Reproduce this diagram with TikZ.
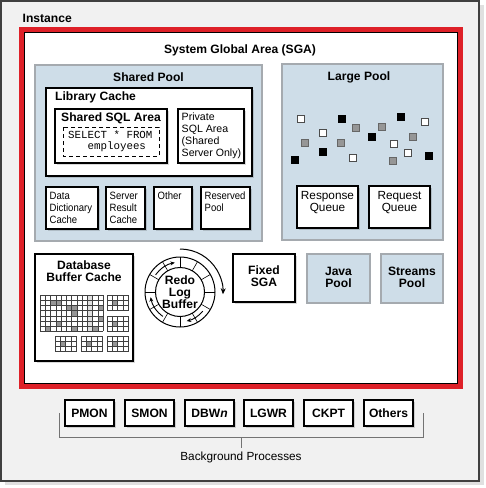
\documentclass[tikz,border=0pt]{standalone}
\usepackage{fontspec}
\setmainfont{Liberation Sans}
\setmonofont{Liberation Mono}
\newfontfamily\narrowsans[FakeStretch=0.9]{Liberation Sans}
\usetikzlibrary{shadows}
\usetikzlibrary{arrows.meta}

\definecolor{instgray}{RGB}{241,241,241}
\definecolor{sgared}{RGB}{222,32,40}
\definecolor{poolblue}{RGB}{206,221,232}
\definecolor{poolline}{RGB}{165,170,175}
\definecolor{cellgray}{RGB}{150,150,150}

\newcommand\titlefont{\bfseries\fontsize{12.1}{12}\selectfont}
\newcommand\labelfont{\fontsize{11.8}{12}\selectfont}
\newcommand\areafont{\fontsize{10.6}{12}\selectfont}
\newcommand\cachefont{\narrowsans\fontsize{10.6}{11.8}\selectfont}
\newcommand\sqlfont{\ttfamily\fontsize{10.8}{11}\selectfont}

\tikzset{
  pool/.style={fill=poolblue, draw=poolline, line width=2pt},
  membox/.style={fill=white, draw=black, line width=1.4pt,
    drop shadow={shadow xshift=1.5pt, shadow yshift=-1.5pt, fill=black, opacity=0.15}},
  title/.style={font=\titlefont, align=center},
  cachetext/.style={font=\cachefont, align=left, anchor=north west, inner sep=0pt},
  procbox/.style={membox, minimum width=49pt, minimum height=26pt, inner sep=0pt, font=\titlefont},
  gridline/.style={black!75, line width=0.5pt},
  ringline/.style={black, line width=1pt},
  sqw/.style={fill=white, draw=black!70, line width=0.6pt},
  sqg/.style={fill=cellgray, draw=black!60, line width=0.6pt},
  sqb/.style={fill=black, draw=black, line width=0.6pt},
}

% x, y, columns, rows
\newcommand\cachegrid[4]{%
  \foreach \i in {0,...,#3} \draw[gridline] (#1+\i*5.25,#2) -- ++(0,#4*5.2);
  \foreach \j in {0,...,#4} \draw[gridline] (#1,#2+\j*5.2) -- ++(#3*5.25,0);
}

\begin{document}
\begin{tikzpicture}[x=1pt, y=-1pt]
\useasboundingbox (0,0) rectangle (486,488);

%instance
\fill[black!12] (5,5) rectangle (484,485);
\draw[fill=instgray, draw=black!75, line width=1.2pt] (1,1) rectangle (479,481);
\node[font=\titlefont, anchor=west, inner sep=0pt] (instance) at (22.5,18) {Instance};

%sga frame
\draw[sgared, line width=5pt] (21.5,29.5) rectangle (460.5,386.5);
\draw[fill=white, draw=black, line width=1.2pt] (24.6,32.6) rectangle (457.2,383.6);
\node[title] (sga) at (240,50) {System Global Area (SGA)};

%shared pool
\begin{scope}{
\draw[pool] (35,65) rectangle (262,241);
\node[title] (shpool) at (148.5,77) {Shared Pool};

\draw[membox] (46,88) rectangle (252,176);
\node[font=\titlefont, anchor=west, inner sep=0pt] (libcache) at (55,97.5) {Library Cache};

\draw[membox] (55,109) rectangle (167,163);
\node[title] (sqlarea) at (111,118) {Shared SQL Area};
\draw[black, line width=0.8pt, dash pattern=on 4pt off 3pt] (63,127) rectangle (159,156);
\node[font=\sqlfont, align=left, anchor=west, inner sep=0pt] (select) at (68,141.5)
{SELECT * FROM\\\phantom{SEL}employees};

\draw[membox] (178,109) rectangle (244,163);
\node[font=\areafont, align=left, anchor=west, inner sep=0pt] (private) at (181.5,136)
{Private\\SQL Area\\(Shared\\Server Only)};

\draw[membox] (46,187) rectangle (98,229);
\node[cachetext] (dictcache) at (49.5,192) {Data\\Dictionary\\Cache};
\draw[membox] (106,187) rectangle (145,229);
\node[cachetext] (resultcache) at (109.5,192) {Server\\Result\\Cache};
\draw[membox] (154,187) rectangle (192,229);
\node[cachetext] (other) at (157.5,192) {Other};
\draw[membox] (201,187) rectangle (250,229);
\node[cachetext] (reserved) at (204.5,192) {Reserved\\Pool};
} \end{scope}

%large pool
\begin{scope}{
\draw[pool] (282,64) rectangle (443,240);
\node[title] (lgpool) at (359,77) {Large Pool};

\foreach \x/\y/\c in {301/119/w, 342/119/b, 356/128/g, 323/133/w, 305/143/g,
  341/143/g, 323/152/b, 295/160/b, 353/158/w, 382/127/g, 401/117/b, 372/137/b,
  425/122/w, 413/137/g, 394/144/w, 408/153/w, 393/161/g, 429/156/b}
  \draw[sq\c] (\x-3.5,\y-3.5) rectangle ++(7,7);

\draw[membox] (297,186) rectangle (358,228);
\node[font=\labelfont, align=center] (respq) at (327.5,202.5) {Response\\Queue};
\draw[membox] (369,186) rectangle (430,228);
\node[font=\labelfont, align=center] (reqq) at (399.5,202.5) {Request\\Queue};
} \end{scope}

%database buffer cache
\begin{scope}{
\draw[membox] (35,254) rectangle (133,361);
\node[title] (dbcache) at (84,271) {Database\\Buffer Cache};

\fill[black!12] (40+9*5.25,295) rectangle ++(5.25,36.4);
\foreach \i/\j in {2/1, 3/1, 5/2, 6/2, 6/3, 11/2, 11/4, 3/5, 1/6, 6/6, 10/6}
  \fill[cellgray] (40+\i*5.25,295+\j*5.2) rectangle ++(5.25,5.2);
\cachegrid{40}{295}{12}{7}

\foreach \gx/\gy in {107/295, 107/316, 55/336, 81/336, 107/336}{
  \fill[cellgray] (\gx+5.25,\gy+5.2) rectangle ++(5.25,5.2);
  \cachegrid{\gx}{\gy}{4}{3}
}
} \end{scope}

%redo log buffer
\begin{scope}[shift={(180,292)}, yscale=-1]
\draw[ringline] (0,0) circle[radius=35];
\draw[ringline] (0,0) circle[radius=24.5];
\foreach \a in {0,30,...,330}
  \draw[black, line width=0.6pt] (\a:24.5) -- (\a:35);
\draw[black, line width=0.9pt, -{Stealth[length=4.5pt, width=4pt]}]
  (320:29.8) arc[start angle=320, end angle=283, radius=29.8];
\draw[black, line width=0.9pt, -{Stealth[length=4.5pt, width=4pt]}]
  (235:29.8) arc[start angle=235, end angle=190, radius=29.8];
\draw[black, line width=0.9pt, -{Stealth[length=4.5pt, width=4pt]}]
  (145:29.8) arc[start angle=145, end angle=100, radius=29.8];
\draw[black, line width=1pt, -{Stealth[length=6pt, width=5pt]}]
  (90:43) arc[start angle=90, end angle=-3, radius=43];
\end{scope}
\node[title] (redo) at (180,292) {Redo\\Log\\Buffer};

%fixed sga, java pool, streams pool
\draw[membox] (233,254) rectangle (295,302);
\node[title] (fixedsga) at (264,276) {Fixed\\SGA};
\draw[pool] (307,254) rectangle (370,303);
\node[title] (javapool) at (338.5,277) {Java\\Pool};
\draw[pool] (381,254) rectangle (443,303);
\node[title] (streamspool) at (412,277) {Streams\\Pool};

%background processes
\node[procbox] (pmon) at (89.5,413) {PMON};
\node[procbox] (smon) at (149.5,413) {SMON};
\node[procbox] (dbwn) at (209.5,413) {DBW\textit{n}};
\node[procbox] (lgwr) at (268.5,413) {LGWR};
\node[procbox] (ckpt) at (328.5,413) {CKPT};
\node[procbox] (others) at (388.5,413) {Others};

\draw[black!55, line width=0.8pt] (59,413) -- (59,437) -- (423,437) -- (423,413);
\draw[black!55, line width=0.8pt] (241,437) -- (241,448);
\node[font=\labelfont] (bgproc) at (241,457) {Background Processes};

\end{tikzpicture}
\end{document}
